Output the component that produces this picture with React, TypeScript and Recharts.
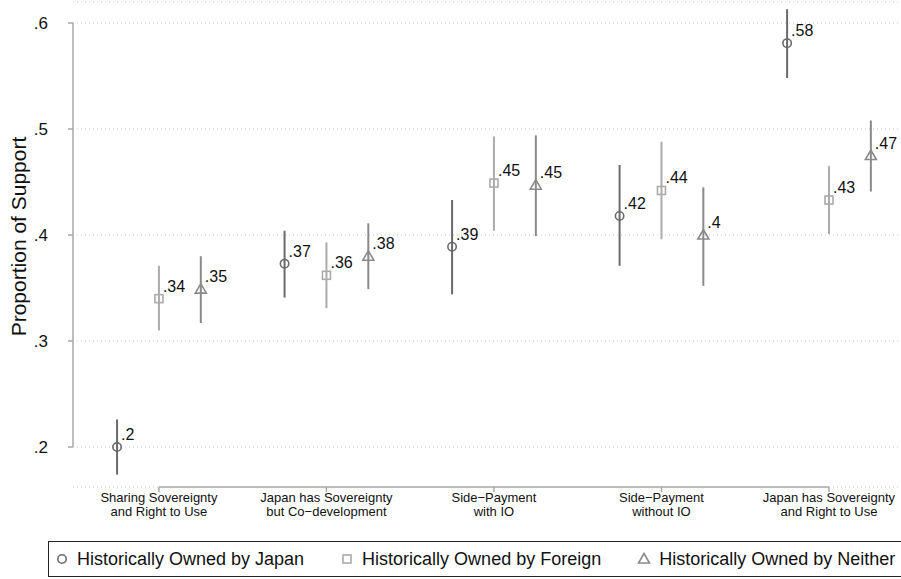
import React from 'react';
import {
  ComposedChart, Scatter, ErrorBar, XAxis, YAxis, CartesianGrid, ReferenceLine,
} from 'recharts';

// five scenarios, one label per group (two lines each)
const categories = [
  ['Sharing Sovereignty', 'and Right to Use'],
  ['Japan has Sovereignty', 'but Co\u2212development'],
  ['Side\u2212Payment', 'with IO'],
  ['Side\u2212Payment', 'without IO'],
  ['Japan has Sovereignty', 'and Right to Use'],
];

const japanMean = [0.2, 0.373, 0.389, 0.418, 0.581];
const japanLow = [0.174, 0.341, 0.344, 0.371, 0.548];
const japanHigh = [0.226, 0.404, 0.433, 0.466, 0.613];
const japanLabels = ['.2', '.37', '.39', '.42', '.58'];

const foreignMean = [0.34, 0.362, 0.449, 0.442, 0.433];
const foreignLow = [0.31, 0.331, 0.404, 0.396, 0.401];
const foreignHigh = [0.371, 0.393, 0.493, 0.488, 0.465];
const foreignLabels = ['.34', '.36', '.45', '.44', '.43'];

const neitherMean = [0.349, 0.38, 0.447, 0.4, 0.475];
const neitherLow = [0.317, 0.349, 0.399, 0.352, 0.441];
const neitherHigh = [0.38, 0.411, 0.494, 0.445, 0.508];
const neitherLabels = ['.35', '.38', '.45', '.4', '.47'];

const yTicks = [0.2, 0.3, 0.4, 0.5, 0.6];
const catTicks = [0, 1, 2, 3, 4];

const X_DOMAIN: [number, number] = [-0.513, 4.43];
const Y_DOMAIN: [number, number] = [0.1623, 0.6198];

const FONT = '"Liberation Sans", Arial, Helvetica, sans-serif';

const JAPAN_COLOR = '#6a6a6a';
const FOREIGN_COLOR = '#ababab';
const NEITHER_COLOR = '#8a8a8a';
const AXIS_COLOR = '#a8a8a8';

const buildRows = (mean: number[], low: number[], high: number[], labels: string[], shift: number) =>
  mean.map((m, i) => ({
    x: i + shift,
    y: m,
    err: [m - low[i], high[i] - m],
    lab: labels[i],
  }));

const japanRows = buildRows(japanMean, japanLow, japanHigh, japanLabels, -0.25);
const foreignRows = buildRows(foreignMean, foreignLow, foreignHigh, foreignLabels, 0);
const neitherRows = buildRows(neitherMean, neitherLow, neitherHigh, neitherLabels, 0.25);

const Marker = ({ kind, cx, cy, color }: { kind: string; cx: number; cy: number; color: string }) => {
  if (kind === 'circle') {
    return <circle cx={cx} cy={cy} r={4.2} fill="none" stroke={color} strokeWidth={1.6} />;
  }
  if (kind === 'square') {
    return <rect x={cx - 4} y={cy - 4} width={8} height={8} fill="none" stroke={color} strokeWidth={1.6} />;
  }
  return (
    <path
      d={`M${cx},${cy - 5.5} L${cx + 5.5},${cy + 4} L${cx - 5.5},${cy + 4} Z`}
      fill="none"
      stroke={color}
      strokeWidth={1.6}
    />
  );
};

const makeShape = (kind: string, color: string) => (props: any) => {
  const { cx, cy, payload } = props;
  if (cx == null || cy == null) return null;
  return (
    <g>
      <Marker kind={kind} cx={cx} cy={cy} color={color} />
      <text x={cx + 4} y={cy - 7} fontSize={16} fill="#111" fontFamily={FONT}>
        {payload.lab}
      </text>
    </g>
  );
};

const CategoryTick = (props: any) => {
  const { x, y, payload } = props;
  const lines = categories[payload.value] || [];
  return (
    <g>
      {lines.map((line, k) => (
        <text key={k} x={x} y={y + 8 + k * 14} textAnchor="middle" fontSize={13} fill="#111" fontFamily={FONT}>
          {line}
        </text>
      ))}
    </g>
  );
};

const YTitle = (props: any) => {
  const { viewBox } = props;
  const cx = 18;
  const cy = viewBox.y + viewBox.height / 2 - 8;
  return (
    <text
      x={cx}
      y={cy}
      transform={`rotate(-90 ${cx} ${cy})`}
      textAnchor="middle"
      dominantBaseline="central"
      fontSize={21}
      fill="#111"
      fontFamily={FONT}
    >
      Proportion of Support
    </text>
  );
};

const legendItems = [
  { kind: 'circle', color: JAPAN_COLOR, name: 'Historically Owned by Japan' },
  { kind: 'square', color: FOREIGN_COLOR, name: 'Historically Owned by Foreign' },
  { kind: 'triangle', color: NEITHER_COLOR, name: 'Historically Owned by Neither' },
];

export default function App() {
  return (
    <div
      style={{
        position: 'absolute',
        left: 0,
        top: 0,
        width: 901,
        height: 579,
        overflow: 'hidden',
        background: '#fff',
        fontFamily: FONT,
      }}
    >
      <ComposedChart width={901} height={579} margin={{ top: 2, right: 0, bottom: 52, left: 23 }}>
        <CartesianGrid vertical={false} stroke="#c8c8c8" strokeDasharray="1 3" />
        <XAxis
          type="number"
          dataKey="x"
          domain={X_DOMAIN}
          allowDataOverflow
          ticks={catTicks}
          height={40}
          axisLine={false}
          tickLine={{ stroke: AXIS_COLOR, strokeWidth: 1.5 }}
          tickSize={5}
          tick={<CategoryTick />}
          interval={0}
        />
        <YAxis
          type="number"
          dataKey="y"
          domain={Y_DOMAIN}
          allowDataOverflow
          ticks={yTicks}
          width={50}
          axisLine={false}
          tickLine={{ stroke: AXIS_COLOR, strokeWidth: 1.5 }}
          tickSize={5}
          tickMargin={20}
          tickFormatter={(v: number) => String(v).replace(/^0\./, '.')}
          tick={{ fontSize: 17, fill: '#111', fontFamily: FONT }}
          label={<YTitle />}
        />
        <ReferenceLine
          segment={[{ x: X_DOMAIN[0], y: yTicks[0] }, { x: X_DOMAIN[0], y: yTicks[yTicks.length - 1] }]}
          stroke={AXIS_COLOR}
          strokeWidth={1.5}
          ifOverflow="visible"
        />
        <ReferenceLine
          segment={[{ x: catTicks[0], y: Y_DOMAIN[0] }, { x: catTicks[catTicks.length - 1], y: Y_DOMAIN[0] }]}
          stroke={AXIS_COLOR}
          strokeWidth={1.5}
          ifOverflow="visible"
        />
        <Scatter data={japanRows} dataKey="y" shape={makeShape('circle', JAPAN_COLOR)} isAnimationActive={false}>
          <ErrorBar dataKey="err" direction="y" width={0} stroke={JAPAN_COLOR} strokeWidth={2} isAnimationActive={false} />
        </Scatter>
        <Scatter data={foreignRows} dataKey="y" shape={makeShape('square', FOREIGN_COLOR)} isAnimationActive={false}>
          <ErrorBar dataKey="err" direction="y" width={0} stroke={FOREIGN_COLOR} strokeWidth={2} isAnimationActive={false} />
        </Scatter>
        <Scatter data={neitherRows} dataKey="y" shape={makeShape('triangle', NEITHER_COLOR)} isAnimationActive={false}>
          <ErrorBar dataKey="err" direction="y" width={0} stroke={NEITHER_COLOR} strokeWidth={2} isAnimationActive={false} />
        </Scatter>
      </ComposedChart>
      <div
        style={{
          position: 'absolute',
          left: 48,
          top: 541,
          width: 890,
          height: 36,
          border: '1px solid #222',
          display: 'flex',
          alignItems: 'center',
          boxSizing: 'border-box',
          paddingLeft: 6,
          fontSize: 18,
          color: '#111',
          whiteSpace: 'nowrap',
        }}
      >
        {legendItems.map((it) => (
          <div key={it.name} style={{ display: 'flex', alignItems: 'center', marginRight: 36, flexShrink: 0 }}>
            <svg width={14} height={14} style={{ marginRight: 8 }}>
              <Marker kind={it.kind} cx={7} cy={7} color={it.color} />
            </svg>
            <span>{it.name}</span>
          </div>
        ))}
      </div>
    </div>
  );
}
